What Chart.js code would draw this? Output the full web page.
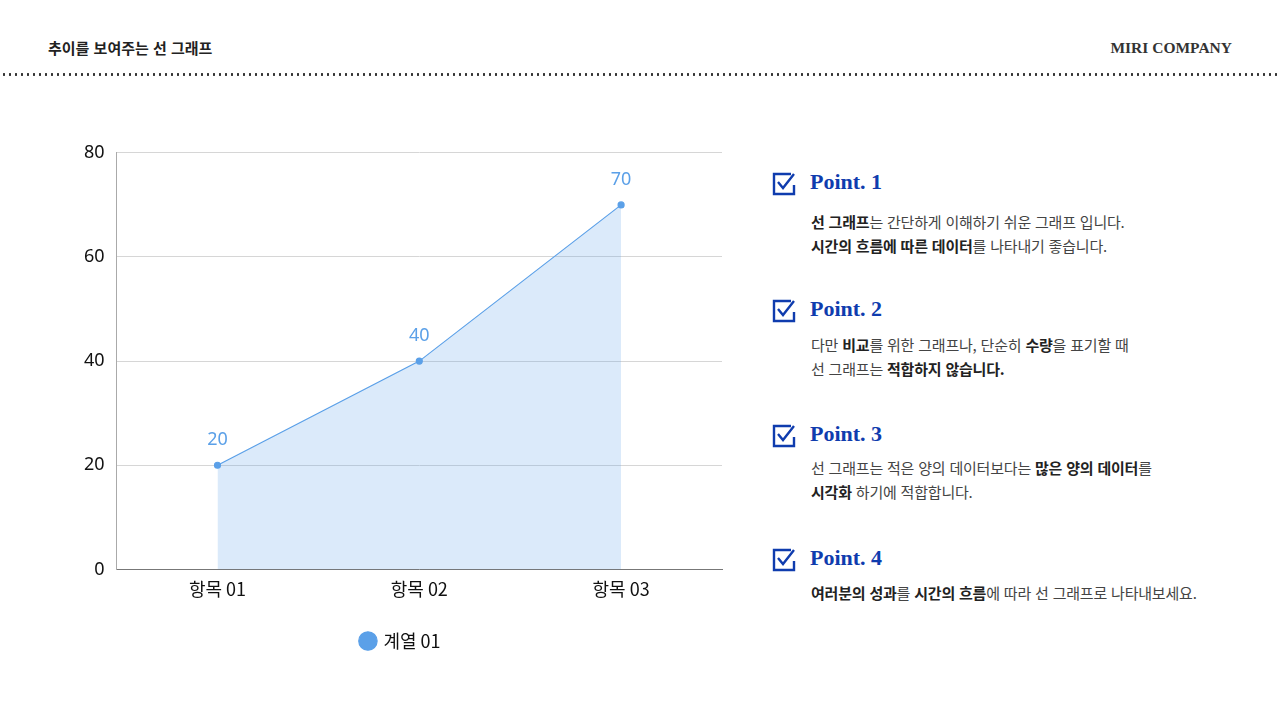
<!DOCTYPE html>
<html lang="ko">
<head>
<meta charset="utf-8">
<script src="https://cdn.jsdelivr.net/npm/chart.js@4.4.1/dist/chart.umd.min.js"></script>
<style>
  html, body { margin: 0; padding: 0; background: #fff; }
  body { width: 1280px; height: 720px; position: relative; overflow: hidden;
         font-family: "Noto Sans CJK KR", "Noto Sans", sans-serif; color: #222; }
  .title { position: absolute; left: 48px; top: 37px; font-size: 15px; font-weight: 700; color: #222; }
  .brand { position: absolute; right: 48px; top: 39px; font-size: 15.5px; font-weight: 700;
           font-family: "Liberation Serif", "DejaVu Serif", serif; color: #333; }
  .dots { position: absolute; left: 0; top: 73px; width: 1280px; height: 3px;
          background-image: radial-gradient(circle, #333 1.1px, transparent 1.3px);
          background-size: 6px 3px; background-position: 1px 0; }
  #wrap { position: absolute; left: 60px; top: 130px; width: 680px; height: 530px; }
  .point { position: absolute; left: 772px; }
  .point h3 { margin: 0; font-family: "Liberation Serif", "DejaVu Serif", serif; font-weight: 700;
              font-size: 22px; line-height: 26px; color: #0f3cae; position: absolute; left: 38px; top: -13px; white-space: nowrap; }
  .point svg { position: absolute; left: 0; top: -10px; }
  .point p { margin: 0; position: absolute; left: 39px; font-size: 15px; line-height: 24px;
             color: #444; white-space: nowrap; letter-spacing: -0.2px; }
  .point b { color: #222; }
</style>
</head>
<body>
<div class="title">추이를 보여주는 선 그래프</div>
<div class="brand">MIRI COMPANY</div>
<div class="dots"></div>

<div id="wrap"><canvas id="lineChart"></canvas></div>

<div class="point" style="top:182px">
  <svg width="24" height="24" viewBox="0 0 24 24"><path d="M19 2H2v20h20v-9" fill="none" stroke="#0f3cae" stroke-width="2.4"/><path d="M6 10l5 6L22 2" fill="none" stroke="#0f3cae" stroke-width="2.4"/></svg>
  <h3>Point. 1</h3>
  <p style="top:28px"><b>선 그래프</b>는 간단하게 이해하기 쉬운 그래프 입니다.<br><b>시간의 흐름에 따른 데이터</b>를 나타내기 좋습니다.</p>
</div>
<div class="point" style="top:309px">
  <svg width="24" height="24" viewBox="0 0 24 24"><path d="M19 2H2v20h20v-9" fill="none" stroke="#0f3cae" stroke-width="2.4"/><path d="M6 10l5 6L22 2" fill="none" stroke="#0f3cae" stroke-width="2.4"/></svg>
  <h3>Point. 2</h3>
  <p style="top:24px">다만 <b>비교</b>를 위한 그래프나, 단순히 <b>수량</b>을 표기할 때<br>선 그래프는 <b>적합하지 않습니다.</b></p>
</div>
<div class="point" style="top:434px">
  <svg width="24" height="24" viewBox="0 0 24 24"><path d="M19 2H2v20h20v-9" fill="none" stroke="#0f3cae" stroke-width="2.4"/><path d="M6 10l5 6L22 2" fill="none" stroke="#0f3cae" stroke-width="2.4"/></svg>
  <h3>Point. 3</h3>
  <p style="top:22px">선 그래프는 적은 양의 데이터보다는 <b>많은 양의 데이터</b>를<br><b>시각화</b> 하기에 적합합니다.</p>
</div>
<div class="point" style="top:558px">
  <svg width="24" height="24" viewBox="0 0 24 24"><path d="M19 2H2v20h20v-9" fill="none" stroke="#0f3cae" stroke-width="2.4"/><path d="M6 10l5 6L22 2" fill="none" stroke="#0f3cae" stroke-width="2.4"/></svg>
  <h3>Point. 4</h3>
  <p style="top:23px"><b>여러분의 성과</b>를 <b>시간의 흐름</b>에 따라 선 그래프로 나타내보세요.</p>
</div>

<script>
const categories = ["항목 01", "항목 02", "항목 03"];
const seriesName = "계열 01";
const seriesValues = [20, 40, 70];
const yTicks = [0, 20, 40, 60, 80];

const lineColor = "#5ba0e8";

// small label plugin: draws each value above its point
const valueLabels = {
  id: "valueLabels",
  afterDatasetsDraw(chart) {
    const ctx = chart.ctx;
    chart.data.datasets.forEach((ds, i) => {
      const meta = chart.getDatasetMeta(i);
      meta.data.forEach((pt, j) => {
        ctx.save();
        ctx.fillStyle = lineColor;
        ctx.font = "18px 'Noto Sans', sans-serif";
        ctx.textAlign = "center";
        ctx.textBaseline = "bottom";
        ctx.fillText(ds.data[j], pt.x, pt.y - 16);
        ctx.restore();
      });
    });
  }
};

const ctx = document.getElementById("lineChart").getContext("2d");
new Chart(ctx, {
  type: "line",
  data: {
    labels: categories,
    datasets: [{
      label: seriesName,
      data: seriesValues,
      borderColor: lineColor,
      borderWidth: 1.2,
      backgroundColor: "rgba(91,160,232,0.22)",
      pointBackgroundColor: lineColor,
      pointBorderColor: lineColor,
      pointRadius: 3,
      fill: "origin",
      tension: 0
    }]
  },
  options: {
    responsive: true,
    maintainAspectRatio: false,
    animation: false,
    layout: { padding: { top: 14, right: 18, left: 20, bottom: 0 } },
    scales: {
      x: {
        offset: true,
        afterFit: axis => { axis.height += 3; },
        grid: { display: false, drawTicks: false },
        border: { color: "#777", width: 1 },
        ticks: { color: "#111", padding: 9, font: { size: 18, family: "'Noto Sans CJK KR', sans-serif" } }
      },
      y: {
        min: 0,
        max: 80,
        afterBuildTicks: axis => { axis.ticks = yTicks.map(v => ({ value: v })); },
        afterFit: axis => { axis.width -= 8; },  // keeps legend centred like the original
        grid: { color: "#d6d6d6", drawTicks: false },
        border: { color: "#aaa", width: 1 },
        ticks: { color: "#111", padding: 12, font: { size: 18, family: "'Noto Sans', sans-serif" } }
      }
    },
    plugins: {
      legend: {
        position: "bottom",
        labels: {
          usePointStyle: true,
          pointStyle: "circle",
          boxWidth: 13,
          boxHeight: 13,
          padding: 20,
          color: "#111",
          font: { size: 18, family: "'Noto Sans CJK KR', sans-serif" }
        }
      },
      tooltip: { enabled: false }
    }
  },
  plugins: [valueLabels]
});
</script>
</body>
</html>
